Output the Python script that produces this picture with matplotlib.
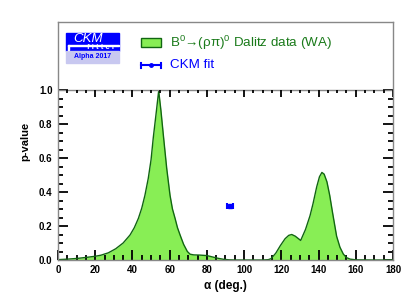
import matplotlib
matplotlib.use("Agg")
import matplotlib.pyplot as plt
from matplotlib.patches import Rectangle
from matplotlib.ticker import MultipleLocator, FixedLocator

plt.rcParams["font.family"] = ["Liberation Sans", "DejaVu Sans"]
plt.rcParams["mathtext.fontset"] = "custom"
plt.rcParams["mathtext.rm"] = "Liberation Sans"

# p-value scan
alpha = [0, 5, 10, 15, 20, 23, 27, 31, 35, 38.7, 41, 43.2, 45, 46.7, 48.5, 50,
         51.2, 52.7, 54.1, 55.3, 56.6, 58.4, 60.2, 61.5, 62.9, 64.2, 65.6, 67.5,
         69.5, 71, 73, 76, 80, 83, 86, 89, 92, 95,
         100, 110, 113, 114.5, 117, 119.5, 122, 124, 125.6, 127.5, 130.4, 133,
         135.4, 137, 139, 140.5, 141.8, 143, 144.5, 146, 147.5, 149.7, 151.5,
         153.3, 155, 157, 160, 170, 180]
pvalue = [0.002, 0.005, 0.009, 0.015, 0.022, 0.028, 0.042, 0.066, 0.10, 0.147,
          0.19, 0.245, 0.305, 0.38, 0.48, 0.59, 0.72, 0.86, 0.995,
          0.88, 0.735, 0.54, 0.38, 0.30, 0.245, 0.19, 0.147, 0.092,
          0.05, 0.034, 0.030, 0.029, 0.026, 0.018, 0.010, 0.004, 0.001, 0.0,
          0.0, 0.0, 0.002, 0.008, 0.04, 0.085, 0.125, 0.145, 0.150, 0.140, 0.115,
          0.18, 0.26, 0.33, 0.43, 0.49, 0.515, 0.505, 0.46, 0.38, 0.28, 0.14,
          0.075, 0.035, 0.014, 0.005, 0.001, 0.0, 0.0]

fit_alpha = 92.5
fit_err = 1.5
fit_p = 0.315

fill_color = "#88ee55"
edge_color = "#116611"
text_green = "#1a7a1a"

fig = plt.figure(figsize=(4.14, 3.03), dpi=100)
ax = fig.add_axes([58 / 414, 1 - 260 / 303, 335 / 414, 238 / 303])

ax.fill_between(alpha, pvalue, 0, color=fill_color, lw=0)
ax.plot(alpha, pvalue, color=edge_color, lw=1.0)
ax.errorbar([fit_alpha], [fit_p], xerr=[fit_err], fmt="s", color="#0000ff",
            ms=3, capsize=2, elinewidth=1.5, capthick=1.5)

ax.set_xlim(0, 180)
ax.set_ylim(0, 1.4)
ax.yaxis.set_major_locator(FixedLocator([0, 0.2, 0.4, 0.6, 0.8, 1.0]))
ax.yaxis.set_minor_locator(FixedLocator([v / 20 for v in range(21)]))
ax.set_yticklabels(["0.0", "0.2", "0.4", "0.6", "0.8", "1.0"])
ax.xaxis.set_major_locator(MultipleLocator(20))
ax.xaxis.set_minor_locator(MultipleLocator(5))
ax.tick_params(which="both", direction="in", width=1.3, colors="black",
               labelsize=7, top=False, right=True)
ax.tick_params(which="major", length=7)
ax.tick_params(which="minor", length=3.5)
ax.tick_params(axis="y", which="both", pad=4)
for lab in ax.get_xticklabels() + ax.get_yticklabels():
    lab.set_fontweight("bold")

for s in ax.spines.values():
    s.set_color("#888888")
    s.set_linewidth(1.0)

# upper frame line at p = 1 with hanging ticks
ax.axhline(1.0, color="#888888", lw=1.0)
for x in range(0, 181, 5):
    ln = 0.041 if x % 20 == 0 else 0.0205
    ax.plot([x, x], [1.0, 1.0 - ln], color="black", lw=1.3, solid_capstyle="butt")

ax.set_xlabel("α (deg.)", fontsize=8.5, fontweight="bold", labelpad=4)
ax.set_ylabel("p-value", fontsize=8, fontweight="bold", labelpad=6)


def fig_rect(x0, y0, w, h, **kw):
    fig.patches.append(Rectangle((x0 / 414, 1 - (y0 + h) / 303), w / 414, h / 303,
                                 transform=fig.transFigure, **kw))


# CKMfitter logo
fig_rect(66, 32.5, 53, 18, color="#0000ff", zorder=5)
fig_rect(68, 44.6, 51, 0.9, color="white", zorder=6)
fig_rect(68, 44.6, 0.9, 5.7, color="white", zorder=6)
fig_rect(66, 51, 53, 12, color="#c8c8f0", zorder=5)
fig.text(88 / 414, 1 - 38.5 / 303, "CKM", color="white", fontsize=9.5,
         style="italic", ha="center", va="center", zorder=7)
fig.text(100.5 / 414, 1 - 47.8 / 303, "f i t t e r", color="white", fontsize=5.5,
         fontweight="bold", ha="center", va="center", zorder=7)
fig.text(92.5 / 414, 1 - 57 / 303, "Alpha 2017", color="#0000ff", fontsize=5,
         fontweight="bold", ha="center", va="center", zorder=7)

# legend entries
fig_rect(141, 38, 20, 9, facecolor=fill_color, edgecolor=edge_color, lw=1.0,
         zorder=5)
fig.text(170 / 414, 1 - 43 / 303, "B$^0$→(ρπ)$^0$ Dalitz data (WA)",
         color=text_green, fontsize=9.6, ha="left", va="center")
fig.lines.append(plt.Line2D([141 / 414, 161 / 414], [1 - 65 / 303, 1 - 65 / 303],
                            transform=fig.transFigure, color="#0000ff", lw=1.5))
for xe in (141, 161):
    fig.lines.append(plt.Line2D([xe / 414, xe / 414],
                                [1 - 62.5 / 303, 1 - 67.5 / 303],
                                transform=fig.transFigure, color="#0000ff", lw=1.5))
fig.lines.append(plt.Line2D([151 / 414], [1 - 65 / 303], transform=fig.transFigure,
                            color="#0000ff", marker="o", ms=2.5))
fig.text(170 / 414, 1 - 65 / 303, "CKM fit", color="#0000ff", fontsize=9.6,
         ha="left", va="center")

fig.savefig("out.png", dpi=100)
